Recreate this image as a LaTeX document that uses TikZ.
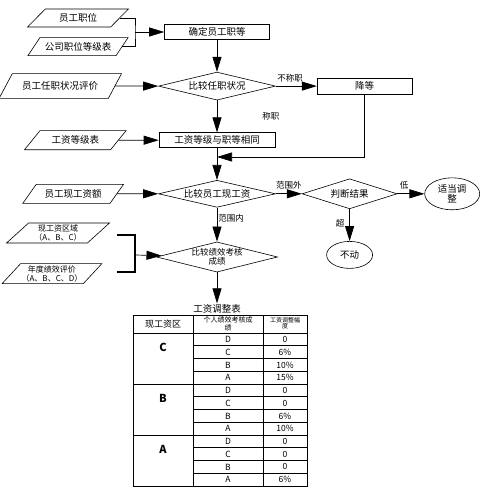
\documentclass[tikz,border=0pt]{standalone}
\usepackage{fontspec}
\setmainfont{Noto Sans CJK SC}
\usetikzlibrary{shapes.geometric, arrows.meta, positioning}
\tikzstyle{io} = [trapezium, trapezium left angle=45, trapezium right angle=135, trapezium stretches=true, minimum width=101pt, minimum height=18pt, inner sep=1pt, text centered, draw=black, line width=0.6pt, font=\fontsize{9.5}{10}\selectfont]
\tikzstyle{procbox} = [rectangle, minimum width=105pt, minimum height=15pt, inner sep=1pt, text centered, draw=black, line width=0.6pt, font=\fontsize{9.5}{10}\selectfont]
\tikzstyle{decide} = [diamond, aspect=4, inner sep=0pt, minimum width=117pt, minimum height=28pt, align=center, draw=black, line width=0.6pt, font=\fontsize{9.5}{10}\selectfont]
\tikzstyle{terminal} = [ellipse, inner sep=0pt, align=center, draw=black, line width=0.6pt, font=\fontsize{9.5}{10.5}\selectfont]
\tikzstyle{lbl} = [inner sep=1pt, font=\fontsize{8.5}{9}\selectfont]
\tikzstyle{arrow} = [line width=0.7pt, -{Triangle[length=15pt,width=9pt]}]
\tikzstyle{bracket} = [line width=0.8pt]
\tikzstyle{cell} = [line width=0.8pt]

\begin{document}
\begin{tikzpicture}[x=1pt, y=-1pt, node distance=32pt]
    \useasboundingbox (0,0) rectangle (487,489);

    \node (post) [procbox] at (217,32) {确定员工职等};
    \node (pos1) [io] at (78,18) {员工职位};
    \node (pos2) [io, below=10pt of pos1] {公司职位等级表};

    \node (cmp1) [decide, below=of post] {比较任职状况};
    \node (eval) [io, minimum width=123pt, minimum height=25pt, left=43pt of cmp1] {员工任职状况评价};
    \node (demote) [procbox, minimum width=95pt, minimum height=16pt, right=41pt of cmp1] {降等};

    \node (wage) [procbox, minimum width=116pt, below=of cmp1] {工资等级与职等相同};
    \node (grade) [io, minimum width=102pt, minimum height=19pt, left=40pt of wage] {工资等级表};

    \node (cmp2) [decide, minimum height=27pt, below=of wage] {比较员工现工资};
    \node (curpay) [io, minimum height=19pt, left=41pt of cmp2] {员工现工资额};
    \node (judge) [decide, minimum width=95pt, minimum height=30pt, aspect=3, right=26pt of cmp2] {判断结果};
    \node (adjust) [terminal, minimum width=55pt, minimum height=32pt, right=27pt of judge] {适当调\\整};
    \node (still) [terminal, minimum width=46pt, minimum height=27pt, below=of judge] {不动};

    \node (cmp3) [decide, minimum width=121pt, minimum height=29pt, below=34pt of cmp2, font=\fontsize{8.5}{9.5}\selectfont] {比较绩效考核\\成绩};
    \node (area) [io, minimum width=103pt, minimum height=20pt, font=\fontsize{8}{9}\selectfont, align=center] at (58,233) {现工资区域\\（A、B、C）};
    \node (perf) [io, minimum width=95pt, minimum height=20pt, font=\fontsize{8}{9}\selectfont, align=center, below=20pt of area, xshift=-6pt] {年度绩效评价\\（A、B、C、D）};

    \node (tabtitle) [below=31pt of cmp3, inner sep=1pt, font=\fontsize{9.5}{10}\selectfont] {工资调整表};

    \coordinate (brk1) at (135,32);
    \coordinate (brk2) at (135,255);
    \coordinate (b2top) at (117,235);
    \coordinate (b2bot) at (117,272);
    \coordinate (join) at (217,157);

    \draw [bracket] (pos1.east) -| (brk1) |- (pos2.east);
    \draw [arrow] (brk1) -- (post);
    \draw [arrow] (post) -- (cmp1);
    \draw [arrow] (eval) -- (cmp1);
    \draw [arrow] (cmp1) -- node[lbl, above, pos=0.35, yshift=3pt] {不称职} (demote);
    \draw [arrow] (cmp1) -- node[lbl, right=44pt] {称职} (wage);
    \draw [arrow] (grade) -- (wage);
    \draw [arrow] (demote.south) |- (join);
    \draw [arrow] (wage) -- (cmp2);
    \draw [arrow] (curpay) -- (cmp2);
    \draw [arrow] (cmp2) -- node[lbl, above, yshift=3pt] {范围外} (judge);
    \draw [arrow] (judge) -- node[lbl, above, pos=0.25, yshift=3pt] {低} (adjust);
    \draw [arrow] (judge) -- node[lbl, left, pos=0.45, xshift=-4pt] {超} (still);
    \draw [arrow] (cmp2) -- node[lbl, right, pos=0.3] {范围内} (cmp3);
    \draw [bracket, line width=1.5pt] (b2top) -| (brk2) |- (b2bot);
    \draw [arrow] (brk2) -- (cmp3);
    \draw [arrow] (cmp3) -- (tabtitle);

    % table
    \draw [cell] (133,315) rectangle (193,333);
    \draw [cell] (193,315) rectangle (263,333);
    \draw [cell] (263,315) rectangle (307,333);
    \node (hzone) [font=\fontsize{9}{10}\selectfont] at (163,324) {现工资区};
    \node (hscore) [align=center, inner sep=0pt, font=\fontsize{7}{7.5}\selectfont] at (228,324) {个人绩效考核成\\绩};
    \node (hrate) [align=center, inner sep=0pt, font=\fontsize{6}{6.5}\selectfont] at (285,323) {工资调整幅\\度};

    \foreach \lvl [count=\i from 0, evaluate=\i as \gy using 333+51*\i] in {C,B,A} {
        \draw [cell] (133,\gy) rectangle (193,\gy+51);
        \node (zone\lvl) [font=\bfseries\fontsize{11}{12}\selectfont] at (163,\gy+14) {\lvl};
    }
    \foreach \sc/\val [count=\k from 0, evaluate=\k as \ry using 333+12.75*\k] in {D/0,C/6\%,B/10\%,A/15\%,D/0,C/0,B/6\%,A/10\%,D/0,C/0,B/0,A/6\%} {
        \draw [cell] (193,\ry) rectangle (263,\ry+12.75);
        \draw [cell] (263,\ry) rectangle (307,\ry+12.75);
        \node (sc\k) [inner sep=0pt, font=\fontsize{8.5}{9}\selectfont] at (228,\ry+6.4) {\sc};
        \node (val\k) [inner sep=0pt, font=\fontsize{8.5}{9}\selectfont] at (285,\ry+6.4) {\val};
    }

\end{tikzpicture}
\end{document}
